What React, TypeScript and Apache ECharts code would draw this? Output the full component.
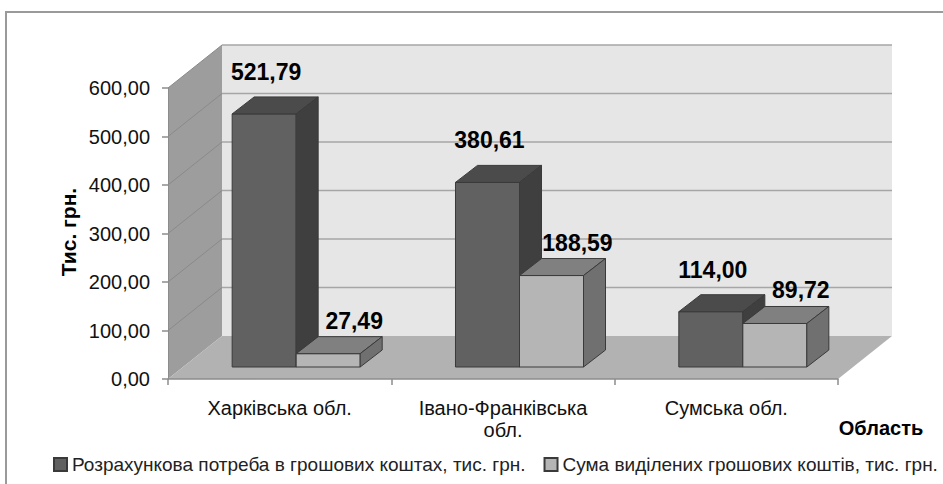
import React, { useEffect, useRef } from "react";
import * as echarts from "echarts";

const categories = ["Харківська обл.", "Івано-Франківська\nобл.", "Сумська обл."];
const needValues = [521.79, 380.61, 114.0];
const allocatedValues = [27.49, 188.59, 89.72];
const seriesNames = [
  "Розрахункова потреба в грошових коштах, тис. грн.",
  "Сума виділених грошових коштів, тис. грн.",
];
const yMin = 0;
const yMax = 600;
const yStep = 100;
const yTicks = [0, 100, 200, 300, 400, 500, 600];
const yAxisTitle = "Тис. грн.";
const xAxisTitle = "Область";

const FONT = '"Liberation Sans", Arial, sans-serif';
const WALL_DX = 54;
const WALL_DY = -43;
const BAR_SHIFT_X = 16.5;
const BAR_SHIFT_Y = -12;
const BAR_W_FRAC = 0.2866;
const BAR_DX = 22;
const BAR_DY = -17;

const fmt = (v: number) => v.toFixed(2).replace(".", ",");

function wallsRender(params: any, api: any) {
  const bw = api.size([1, 0])[0];
  const c0 = api.coord([0, yMin]);
  const left = c0[0] - bw / 2;
  const right = left + bw * categories.length;
  const yBottom = c0[1];
  const yTop = api.coord([0, yMax])[1];
  const children: any[] = [];
  children.push({
    type: "polygon",
    shape: {
      points: [
        [left + WALL_DX, yTop + WALL_DY],
        [right + WALL_DX, yTop + WALL_DY],
        [right + WALL_DX, yBottom + WALL_DY],
        [left + WALL_DX, yBottom + WALL_DY],
      ],
    },
    style: { fill: "#e6e6e6", stroke: "none" },
  });
  children.push({
    type: "polygon",
    shape: {
      points: [
        [left, yTop],
        [left + WALL_DX, yTop + WALL_DY],
        [left + WALL_DX, yBottom + WALL_DY],
        [left, yBottom],
      ],
    },
    style: { fill: "#9d9d9d", stroke: "none" },
  });
  children.push({
    type: "polygon",
    shape: {
      points: [
        [left, yBottom],
        [left + WALL_DX, yBottom + WALL_DY],
        [right + WALL_DX, yBottom + WALL_DY],
        [right, yBottom],
      ],
    },
    style: { fill: "#b2b2b2", stroke: "none" },
  });
  yTicks.forEach((t) => {
    const y = api.coord([0, t])[1];
    if (t !== yMin) {
      children.push({
        type: "line",
        shape: { x1: left + WALL_DX, y1: y + WALL_DY, x2: right + WALL_DX, y2: y + WALL_DY },
        style: { stroke: "#a6a6a6", lineWidth: 1.5 },
      });
      children.push({
        type: "line",
        shape: { x1: left, y1: y, x2: left + WALL_DX, y2: y + WALL_DY },
        style: { stroke: "#8a8a8a", lineWidth: 1 },
      });
    }
  });
  return { type: "group", children };
}

function makeBarRender(side: "left" | "right", colors: { front: string; top: string; side: string }, labelDx: number, labelDy: number) {
  return function (params: any, api: any) {
    const i = api.value(0);
    const v = api.value(1);
    const bw = api.size([1, 0])[0];
    const pv = api.coord([i, v]);
    const p0 = api.coord([i, yMin]);
    const w = bw * BAR_W_FRAC;
    const cx = pv[0] + BAR_SHIFT_X;
    const xL = side === "left" ? cx - w : cx;
    const xR = side === "left" ? cx : cx + w;
    const yT = pv[1] + BAR_SHIFT_Y;
    const yB = p0[1] + BAR_SHIFT_Y;
    const edge = { stroke: "#3a3a3a", lineWidth: 1 };
    return {
      type: "group",
      children: [
        {
          type: "polygon",
          shape: { points: [[xL, yT], [xR, yT], [xR, yB], [xL, yB]] },
          style: { fill: colors.front, ...edge },
        },
        {
          type: "polygon",
          shape: { points: [[xL, yT], [xL + BAR_DX, yT + BAR_DY], [xR + BAR_DX, yT + BAR_DY], [xR, yT]] },
          style: { fill: colors.top, ...edge },
        },
        {
          type: "polygon",
          shape: { points: [[xR, yT], [xR + BAR_DX, yT + BAR_DY], [xR + BAR_DX, yB + BAR_DY], [xR, yB]] },
          style: { fill: colors.side, ...edge },
        },
        {
          type: "text",
          style: {
            text: fmt(v),
            x: (xL + xR) / 2 + labelDx,
            y: yT + labelDy,
            align: "center",
            verticalAlign: "middle",
            fontFamily: FONT,
            fontSize: 23,
            fontWeight: "bold",
            fill: "#000",
          },
        },
      ],
    };
  };
}

export default function App() {
  const ref = useRef<HTMLDivElement>(null);
  useEffect(() => {
    if (!ref.current) return;
    const chart = echarts.init(ref.current, null, { renderer: "svg" });
    const darkColors = { front: "#616161", top: "#4b4b4b", side: "#3f3f3f" };
    const lightColors = { front: "#b5b5b5", top: "#808080", side: "#707070" };
    chart.setOption({
      animation: false,
      backgroundColor: "#ffffff",
      grid: { left: 168, right: 105, top: 88, bottom: 105, containLabel: false, outerBoundsMode: "none" },
      xAxis: {
        type: "category",
        data: categories,
        z: 10,
        axisLine: { lineStyle: { color: "#8c8c8c", width: 1.5 } },
        axisTick: { show: true, length: 6, lineStyle: { color: "#8c8c8c", width: 1.5 } },
        axisLabel: { margin: 18, fontFamily: FONT, fontSize: 20, color: "#111", lineHeight: 22, interval: 0 },
        splitLine: { show: false },
      },
      yAxis: {
        type: "value",
        min: yMin,
        max: yMax,
        interval: yStep,
        z: 10,
        axisLine: { show: true, lineStyle: { color: "#8c8c8c", width: 1 } },
        axisTick: { show: true, length: 6, lineStyle: { color: "#8c8c8c", width: 1.5 } },
        axisLabel: { margin: 18, fontFamily: FONT, fontSize: 20, color: "#111", formatter: (v: number) => fmt(v) },
        splitLine: { show: false },
      },
      legend: {
        left: 53,
        top: 455,
        padding: 0,
        icon: "rect",
        itemWidth: 13,
        itemHeight: 13,
        itemGap: 18,
        textStyle: { fontFamily: FONT, fontSize: 19, color: "#222" },
        data: seriesNames,
      },
      graphic: [
        {
          type: "rect",
          shape: { x: 6, y: 12, width: 1200, height: 1000 },
          style: { fill: "none", stroke: "#9a9a9a", lineWidth: 2 },
          z: -10,
        },
        {
          type: "text",
          x: 68,
          y: 232,
          rotation: Math.PI / 2,
          style: {
            text: yAxisTitle,
            align: "center",
            verticalAlign: "middle",
            fontFamily: FONT,
            fontSize: 21,
            fontWeight: "bold",
            fill: "#000",
          },
        },
        {
          type: "text",
          x: 881,
          y: 428,
          style: {
            text: xAxisTitle,
            align: "center",
            verticalAlign: "middle",
            fontFamily: FONT,
            fontSize: 20,
            fontWeight: "bold",
            fill: "#000",
          },
        },
      ],
      series: [
        {
          type: "custom",
          name: "walls",
          clip: false,
          silent: true,
          z: 1,
          data: [[0, 0]],
          renderItem: wallsRender,
        },
        {
          type: "custom",
          name: seriesNames[0],
          clip: false,
          z: 3,
          itemStyle: { color: darkColors.front, borderColor: "#3a3a3a", borderWidth: 1 },
          encode: { x: 0, y: 1 },
          data: needValues.map((v, i) => [i, v]),
          renderItem: makeBarRender("left", darkColors, 2, -42),
        },
        {
          type: "custom",
          name: seriesNames[1],
          clip: false,
          z: 4,
          itemStyle: { color: lightColors.front, borderColor: "#3a3a3a", borderWidth: 1 },
          encode: { x: 0, y: 1 },
          data: allocatedValues.map((v, i) => [i, v]),
          renderItem: makeBarRender("right", lightColors, 26, -33),
        },
      ],
    });
    return () => chart.dispose();
  }, []);
  return <div ref={ref} style={{ position: "absolute", left: 0, top: 0, width: 943, height: 484 }} />;
}
